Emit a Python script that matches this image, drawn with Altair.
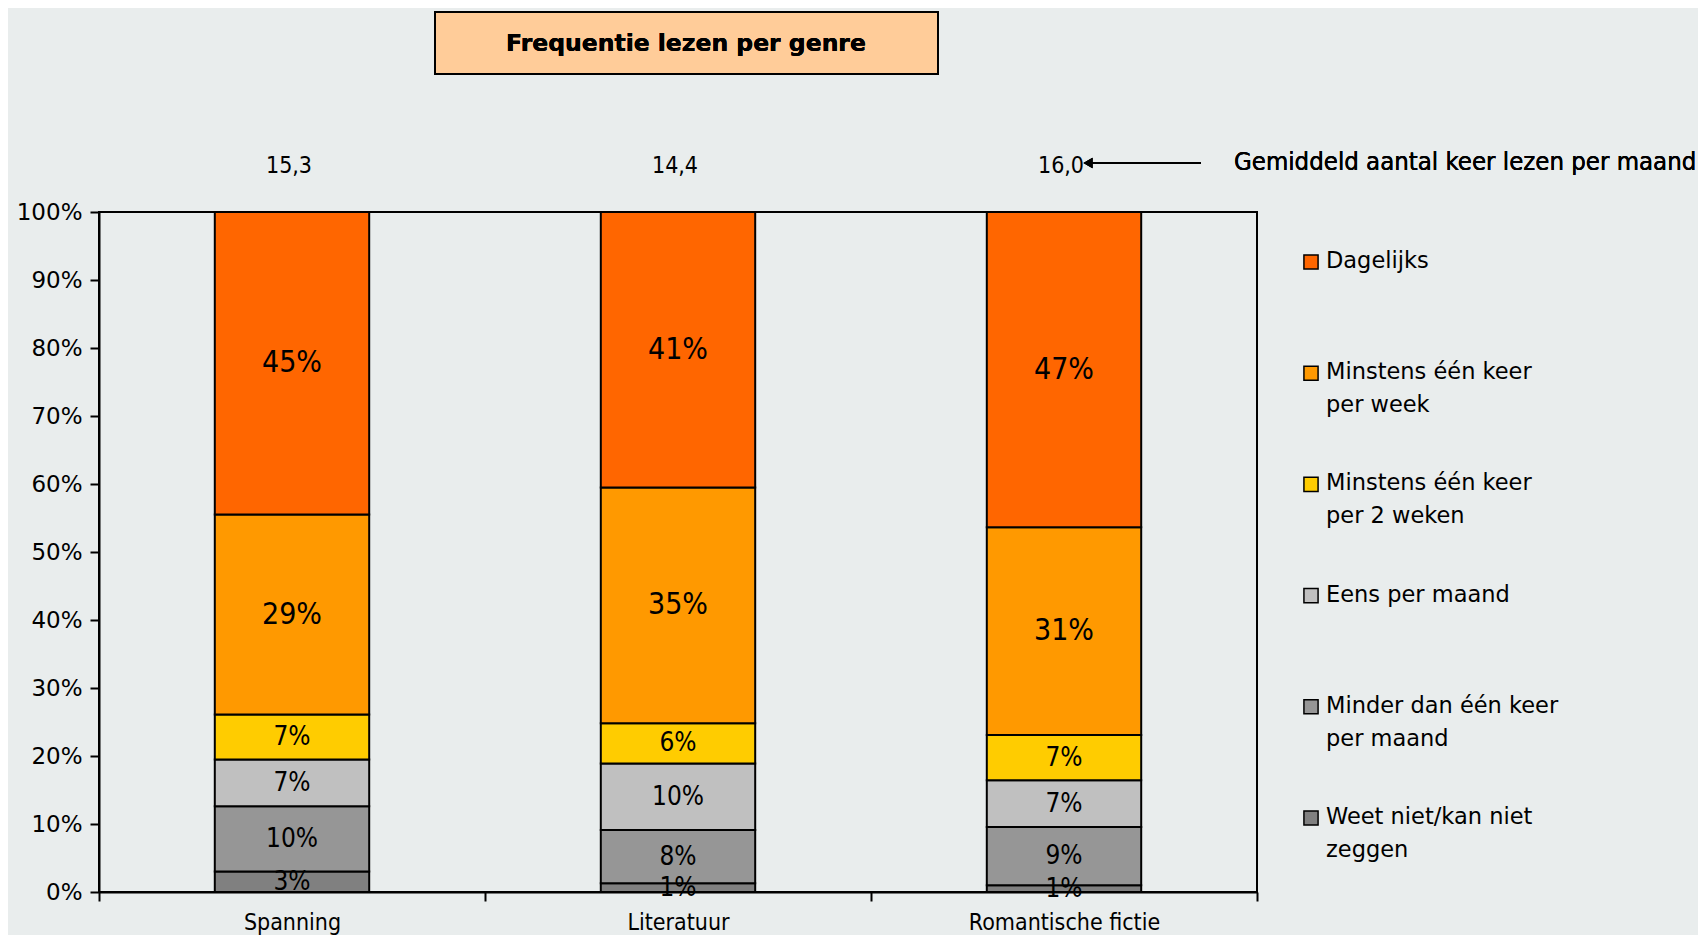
import altair as alt
import pandas as pd

genres = ["Spanning", "Literatuur", "Romantische fictie"]
series = [
    "Weet niet/kan niet zeggen",
    "Minder dan één keer per maand",
    "Eens per maand",
    "Minstens één keer per 2 weken",
    "Minstens één keer per week",
    "Dagelijks",
]
legend_lines = [
    "Weet niet/kan niet\nzeggen",
    "Minder dan één keer\nper maand",
    "Eens per maand",
    "Minstens één keer\nper 2 weken",
    "Minstens één keer\nper week",
    "Dagelijks",
]
colors = ["#808080", "#969696", "#C0C0C0", "#FFCC00", "#FF9900", "#FF6600"]
label_sizes = [26, 26, 26, 26, 30, 30]

# percentages per genre, bottom (Weet niet) to top (Dagelijks)
spanning = [3.0, 9.6, 6.9, 6.6, 29.4, 44.5]
literatuur = [1.3, 7.8, 9.8, 5.9, 34.7, 40.5]
romantisch = [1.0, 8.6, 6.9, 6.7, 30.7, 46.6]
gemiddeld = ["15,3", "14,4", "16,0"]

rows = []
for g, vals in zip(genres, [spanning, literatuur, romantisch]):
    for i, (s, v) in enumerate(zip(series, vals)):
        rows.append({"genre": g, "serie": s, "order": i, "pct": v,
                     "fs": label_sizes[i]})
df = pd.DataFrame(rows)
df_top = pd.DataFrame({"genre": genres, "gem": gemiddeld})
df_leg = pd.DataFrame({"serie": series, "label": legend_lines,
                       "row": list(range(5, -1, -1))})

W, H = 1158, 680
BG = "#E9EDED"
LABEL_FONT = "DejaVu Sans Condensed, Liberation Sans Narrow, Arial Narrow, sans-serif"
MAIN_FONT = "DejaVu Sans, Verdana, sans-serif"

xscale = alt.Scale(domain=genres, paddingInner=0, paddingOuter=0)
color_scale = alt.Scale(domain=series, range=colors)

base = alt.Chart(df).transform_stack(
    stack="pct", groupby=["genre"], as_=["y0", "y1"],
    sort=[alt.SortField("order", order="ascending")], offset="normalize"
).transform_calculate(
    mid="(datum.y0 + datum.y1) / 2",
    lbl="round(datum.pct) + '%'",
)

bars = base.mark_bar(stroke="black", strokeWidth=2,
                     width=alt.RelativeBandSize(0.4)).encode(
    x=alt.X("genre:N", scale=xscale, sort=genres, title=None,
            axis=alt.Axis(tickBand="extent", tickExtra=True, labelAngle=0,
                          domainColor="black", domainWidth=2,
                          tickColor="black", tickWidth=2, tickSize=9,
                          labelPadding=10, labelFont=LABEL_FONT,
                          labelFontSize=23, labelColor="black", grid=False,
                          labelBaseline="top", labelLimit=500)),
    y=alt.Y("y0:Q", scale=alt.Scale(domain=[0, 1], nice=False), title=None,
            axis=alt.Axis(values=[i / 10 for i in range(11)], format=".0%",
                          domainColor="black", domainWidth=2, tickColor="black",
                          tickWidth=2, tickSize=9, labelPadding=8,
                          labelFont=MAIN_FONT, labelFontSize=23,
                          labelColor="black", grid=False)),
    y2="y1:Q",
    color=alt.Color("serie:N", scale=color_scale, legend=None),
)

labels = base.mark_text(font=LABEL_FONT, color="black", baseline="middle").encode(
    x=alt.X("genre:N", scale=xscale, sort=genres),
    y=alt.Y("mid:Q"),
    text="lbl:N",
    size=alt.Size("fs:Q", scale=None, legend=None),
)

top_nums = alt.Chart(df_top).mark_text(font=LABEL_FONT, fontSize=23, dx=-3,
                                       color="black", baseline="middle").encode(
    x=alt.X("genre:N", scale=xscale, sort=genres),
    y=alt.value(-46),
    text="gem:N",
)

arrow_line = alt.Chart(df_top).mark_rule(color="black", strokeWidth=2).encode(
    x=alt.value(988), x2=alt.value(1102), y=alt.value(-49)
)
arrow_head = alt.Chart(df_top).mark_point(shape="triangle-left", filled=True,
                                          color="black", size=110, opacity=1).encode(
    x=alt.value(989), y=alt.value(-49)
)
note = alt.Chart(df_top).mark_text(font=LABEL_FONT, fontSize=25.5, color="black",
                                   align="left", baseline="middle").encode(
    x=alt.value(1135), y=alt.value(-50),
    text=alt.value("Gemiddeld aantal keer lezen per maand"),
)

title_box = alt.Chart(df_top).mark_rect(fill="#FFCC99", stroke="black",
                                        strokeWidth=2).encode(
    x=alt.value(336), x2=alt.value(839), y=alt.value(-200), y2=alt.value(-138)
)
title_txt = alt.Chart(df_top).mark_text(font="DejaVu Sans, Verdana, sans-serif",
                                        fontSize=23.5, fontWeight="bold",
                                        color="black", baseline="middle").encode(
    x=alt.value(587), y=alt.value(-168),
    text=alt.value("Frequentie lezen per genre"),
)

leg_y = alt.Y("row:Q", scale=alt.Scale(domain=[0, 5], range=[50, 606]), axis=None)
leg_sq = alt.Chart(df_leg).mark_square(size=200, stroke="black", strokeWidth=1.5,
                                       opacity=1).encode(
    x=alt.value(1212),
    y=leg_y,
    fill=alt.Color("serie:N", scale=color_scale, legend=None),
)
leg_txt = alt.Chart(df_leg).mark_text(font=MAIN_FONT, fontSize=22.5, color="black",
                                      align="left", baseline="top", lineBreak="\n",
                                      lineHeight=33, dy=-12).encode(
    x=alt.value(1227),
    y=leg_y,
    text="label:N",
)

main = alt.layer(bars, labels, top_nums, arrow_line, arrow_head, note,
                 title_box, title_txt)
legend = alt.layer(leg_sq, leg_txt)

chart = alt.layer(main, legend).resolve_scale(
    y="independent", color="independent"
).properties(
    width=W, height=H,
    padding={"left": 91, "top": 204, "right": 441, "bottom": 43},
    autosize=alt.AutoSizeParams(type="none"),
    background=BG,
).configure_view(stroke="black", strokeWidth=2).configure_axis(
    labelFlush=False
)

chart.save("out.html", embed_options={"renderer": "svg", "actions": False})
